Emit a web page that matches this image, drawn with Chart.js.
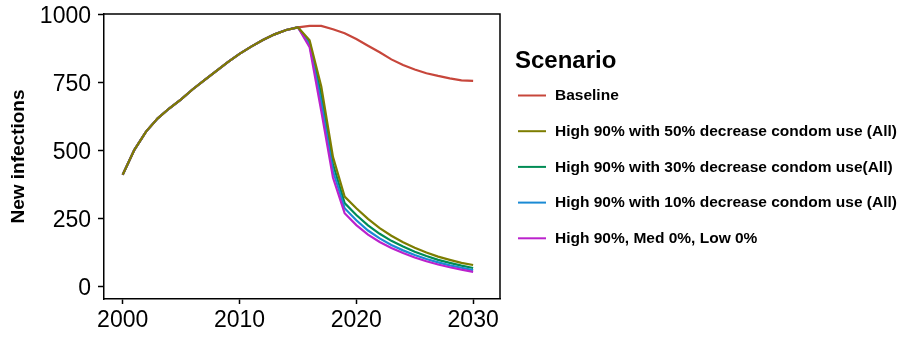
<!DOCTYPE html>
<html>
<head>
<meta charset="utf-8">
<style>
  html, body { margin: 0; padding: 0; background: #ffffff; }
  #c { display: block; }
</style>
<script src="https://cdn.jsdelivr.net/npm/chart.js@4.4.1/dist/chart.umd.min.js"></script>
</head>
<body>
<canvas id="c" width="909" height="337"></canvas>
<script>
// ---- Data ----
const years = [2000,2001,2002,2003,2004,2005,2006,2007,2008,2009,2010,2011,2012,2013,2014,
               2015,2016,2017,2018,2019,2020,2021,2022,2023,2024,2025,2026,2027,2028,2029,2030];
const history = [410,502,569,618,655,688,725,759,792,825,855,882,906,927,943];
const baseline   = [953,958,958,946,931,910,885,861,835,814,798,784,774,765,758,756];
const cond50     = [953,905,735,476,330,287,248,214,186,162,142,124,109,97,86,78];
const cond30     = [953,897,705,450,306,262,224,193,167,146,127,111,97,86,76,67];
const cond10     = [953,889,675,425,287,243,205,176,152,132,115,100,88,77,68,59];
const highOnly   = [953,880,645,400,269,225,190,163,141,122,106,92,80,70,61,53];
const seriesNames = [
  'Baseline',
  'High 90% with 50% decrease condom use (All)',
  'High 90% with 30% decrease condom use(All)',
  'High 90% with 10% decrease condom use (All)',
  'High 90%, Med 0%, Low 0%'
];
const seriesColors = ['#c7463b', '#7d7d00', '#008c55', '#1a8ad4', '#bb22cc'];
const xTicks = [2000, 2010, 2020, 2030];
const yTicks = [0, 250, 500, 750, 1000];
const legendTitle = 'Scenario';
const yTitle = 'New infections';

const seriesValues = [baseline, cond50, cond30, cond10, highOnly];
// drawing order: olive on top of the shared history
const drawOrder = [4, 0, 3, 2, 1];

const FONT = '"Liberation Sans", Arial, Helvetica, sans-serif';

const datasets = seriesValues.map((vals, i) => {
  const full = history.concat(vals);
  return {
    label: seriesNames[i],
    data: years.map((yr, k) => ({ x: yr, y: full[k] })),
    borderColor: seriesColors[i],
    backgroundColor: seriesColors[i],
    borderWidth: 2.2,
    pointRadius: 0,
    pointHoverRadius: 0,
    tension: 0,
    fill: false,
    order: drawOrder[i]
  };
});

const panelBorder = {
  id: 'panelBorder',
  afterDatasetsDraw(chart) {
    const { ctx, chartArea: a } = chart;
    ctx.save();
    ctx.strokeStyle = '#000';
    ctx.lineWidth = 1.5;
    ctx.beginPath();
    ctx.moveTo(a.left, a.top);
    ctx.lineTo(a.right, a.top);
    ctx.lineTo(a.right, a.bottom);
    ctx.stroke();
    ctx.restore();
  }
};

const sideLegend = {
  id: 'sideLegend',
  afterDraw(chart) {
    const ctx = chart.ctx;
    ctx.save();
    ctx.fillStyle = '#000';
    ctx.textBaseline = 'middle';
    ctx.textAlign = 'left';
    ctx.font = 'bold 24px ' + FONT;
    ctx.fillText(legendTitle, 515, 61);
    ctx.font = 'bold 15.5px ' + FONT;
    chart.data.datasets.forEach((ds, i) => {
      const y = 95.5 + i * 35.7;
      ctx.strokeStyle = ds.borderColor;
      ctx.lineWidth = 2;
      ctx.beginPath();
      ctx.moveTo(518, y);
      ctx.lineTo(546, y);
      ctx.stroke();
      ctx.fillStyle = '#000';
      ctx.fillText(ds.label, 555, y + 0.5);
    });
    ctx.restore();
  }
};

new Chart(document.getElementById('c'), {
  type: 'line',
  data: { datasets },
  plugins: [panelBorder, sideLegend],
  options: {
    responsive: false,
    animation: false,
    devicePixelRatio: 1,
    layout: { padding: { left: 0, right: 409, top: 14, bottom: 0 } },
    plugins: {
      legend: { display: false },
      tooltip: { enabled: false },
      title: { display: false }
    },
    scales: {
      x: {
        type: 'linear',
        min: 1998.4,
        max: 2032.3,
        afterBuildTicks(scale) { scale.ticks = xTicks.map(v => ({ value: v })); },
        afterFit(scale) {
          scale.height = 38;
          scale.paddingLeft = 0; scale.paddingRight = 0;
        },
        ticks: {
          color: '#000',
          font: { family: FONT, size: 23 },
          padding: 3,
          maxRotation: 0,
          autoSkip: false,
          callback: v => String(v)
        },
        grid: { drawOnChartArea: false, drawTicks: true, tickLength: 5, tickColor: '#000', tickWidth: 1.5 },
        border: { display: true, color: '#000', width: 1.5 }
      },
      y: {
        type: 'linear',
        min: -47,
        max: 1002,
        afterBuildTicks(scale) { scale.ticks = yTicks.map(v => ({ value: v })); },
        afterFit(scale) {
          scale.width = 104;
          scale.paddingTop = 0; scale.paddingBottom = 0;
        },
        ticks: {
          color: '#000',
          font: { family: FONT, size: 23 },
          padding: 7,
          labelOffset: 2,
          autoSkip: false,
          callback: v => String(v)
        },
        title: {
          display: true,
          text: yTitle,
          color: '#000',
          font: { family: FONT, size: 19, weight: 'bold' },
          padding: { top: 7, bottom: 0 }
        },
        grid: { drawOnChartArea: false, drawTicks: true, tickLength: 6, tickColor: '#000', tickWidth: 1.5 },
        border: { display: true, color: '#000', width: 1.5 }
      }
    }
  }
});
</script>
</body>
</html>
